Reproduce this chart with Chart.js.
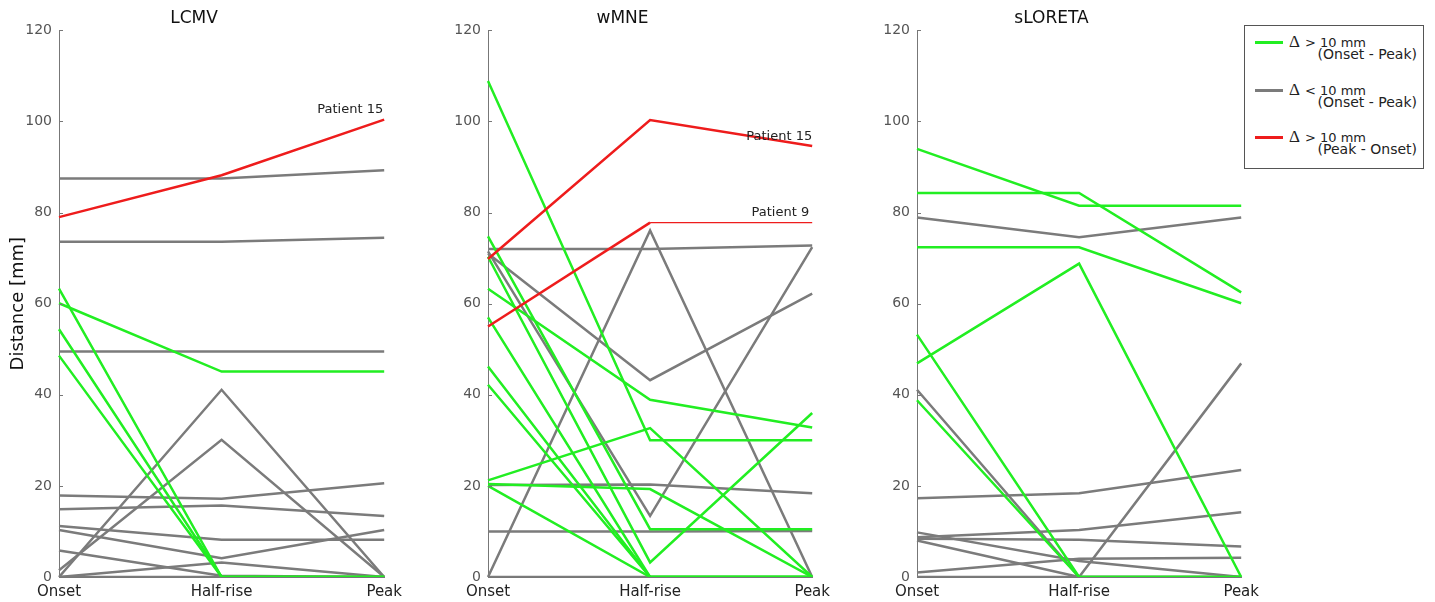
<!DOCTYPE html>
<html>
<head>
<meta charset="utf-8">
<script src="https://cdn.jsdelivr.net/npm/chart.js@4/dist/chart.umd.min.js"></script>
<style>
  html, body { margin:0; padding:0; background:#fff; }
  body { width:1435px; height:602px; position:relative; overflow:hidden; font-family:"DejaVu Sans", sans-serif; }
  .panel { position:absolute; top:0; height:602px; overflow:hidden; }
  .panel canvas { display:block; }
  #legend { position:absolute; left:1244px; top:25px; width:180px; height:144px; border:1px solid #555; box-sizing:border-box; background:#fff; }
  .lg { position:absolute; left:0; width:100%; height:30px; }
  .sw { position:absolute; left:10px; width:28px; height:3px; }
  .main { position:absolute; left:44px; top:6px; height:20px; display:flex; align-items:center; white-space:nowrap; color:#222; font-size:13px; }
  .delta { font-family:"Liberation Serif", serif; font-size:17px; margin-right:5px; }
  .sub { position:absolute; right:6px; top:20px; white-space:nowrap; color:#222; font-size:14px; line-height:16px; }
</style>
</head>
<body>
<div class="panel" id="p1" style="left:0px;width:408px;"><canvas id="c1" width="408" height="609"></canvas></div>
<div class="panel" id="p2" style="left:429px;width:407px;"><canvas id="c2" width="407" height="609"></canvas></div>
<div class="panel" id="p3" style="left:858px;width:407px;"><canvas id="c3" width="407" height="609"></canvas></div>

<div id="legend">
  <div class="lg" style="top:0px;">
    <div class="sw" style="top:15px;background:#22ee22;"></div>
    <div class="main"><span class="delta">&Delta;</span><span>&gt; 10 mm</span></div>
    <div class="sub">(Onset - Peak)</div>
  </div>
  <div class="lg" style="top:48px;">
    <div class="sw" style="top:15px;background:#7b7b7b;"></div>
    <div class="main"><span class="delta">&Delta;</span><span>&lt; 10 mm</span></div>
    <div class="sub">(Onset - Peak)</div>
  </div>
  <div class="lg" style="top:95px;">
    <div class="sw" style="top:15px;background:#ee1c1c;"></div>
    <div class="main"><span class="delta">&Delta;</span><span>&gt; 10 mm</span></div>
    <div class="sub">(Peak - Onset)</div>
  </div>
</div>

<script>
// ---- Data ----
const categories = ['Onset', 'Half-rise', 'Peak'];
const yTickValues = [0, 20, 40, 60, 80, 100, 120];
const panelTitles = ['LCMV', 'wMNE', 'sLORETA'];

// LCMV
const lcmvRed = [[79.0, 88.2, 100.4]];
const lcmvGreen = [[60.1, 45.1, 45.1], [63.3, 0, 0], [54.4, 0, 0], [48.6, 0, 0]];
const lcmvGrey = [[87.5, 87.5, 89.3], [73.6, 73.6, 74.5], [49.5, 49.5, 49.5], [17.9, 17.2, 20.6],
                  [14.9, 15.7, 13.4], [11.2, 8.2, 8.2], [10.3, 4.1, 10.3], [5.8, 0.3, 0],
                  [0, 3.2, 0], [0, 41.1, 0], [1.5, 30.1, 0], [0, 0, 0]];

// wMNE
const wmneRed = [[69.8, 100.3, 94.6], [55.0, 77.8, 77.8]];
const wmneGreen = [[108.9, 30.0, 30.0], [74.8, 10.5, 10.5], [70.3, 3.2, 36.0], [63.3, 38.9, 32.8],
                   [57.0, 0, 0], [46.2, 0, 0], [42.2, 0, 0], [21.2, 32.7, 0], [20.4, 19.3, 0], [20.0, 0, 0]];
const wmneGrey = [[72.0, 72.0, 72.8], [71.0, 43.2, 62.2], [71.5, 13.4, 72.4], [0, 76.1, 0],
                  [20.2, 20.3, 18.4], [10.0, 10.0, 10.1], [0, 0, 0]];

// sLORETA
const slorRed = [];
const slorGreen = [[94.0, 81.5, 81.5], [84.3, 84.3, 62.5], [72.4, 72.4, 60.1], [46.9, 68.8, 0],
                   [53.2, 0, 0], [38.8, 0, 0]];
const slorGrey = [[78.9, 74.6, 78.9], [41.1, 0, 46.9], [17.3, 18.4, 23.5], [8.7, 10.3, 14.2],
                  [8.4, 8.2, 6.7], [9.8, 3.5, 0], [8.0, 0, 0], [1.0, 4.0, 4.2], [0, 0, 0]];

// Annotation texts
const lcmvNotes = [{ text: 'Patient 15', x: 2, y: 102.5, dx: -1 }];
const wmneNotes = [{ text: 'Patient 15', x: 2, y: 96.6, dx: 0 }, { text: 'Patient 9', x: 2, y: 80.1, dx: -3 }];

// ---- Styles ----
const GREEN = '#22ee22', GREY = '#7b7b7b', RED = '#ee1c1c';
const LINE_W = 2.5;
// per-segment widths for red series (wMNE Patient 9 plateau is drawn thin)
const wmneRedSegW = [[LINE_W, LINE_W], [LINE_W, 1.2]];

function makeSets(red, green, grey, redSegW) {
  const sets = [];
  red.forEach((d, i) => {
    const s = { data: d, borderColor: RED };
    if (redSegW) s.segment = { borderWidth: ctx => redSegW[i][ctx.p0DataIndex] };
    sets.push(s);
  });
  green.forEach(d => sets.push({ data: d, borderColor: GREEN }));
  grey.forEach(d => sets.push({ data: d, borderColor: GREY }));
  return sets.map(s => Object.assign(s, { borderWidth: LINE_W, pointRadius: 0, tension: 0, fill: false }));
}

const extrasPlugin = {
  id: 'extras',
  afterDatasetsDraw(chart, args, opts) {
    const { ctx, scales: { x, y } } = chart;
    ctx.save();
    ctx.strokeStyle = '#777'; ctx.lineWidth = 1;
    yTickValues.forEach(v => {
      const py = Math.round(y.getPixelForValue(v)) + 0.5;
      ctx.beginPath(); ctx.moveTo(x.left, py); ctx.lineTo(x.left + 4, py); ctx.stroke();
    });
    ctx.font = '13px "DejaVu Sans"';
    ctx.fillStyle = '#222'; ctx.textAlign = 'right'; ctx.textBaseline = 'middle';
    (opts.notes || []).forEach(n => {
      ctx.fillText(n.text, x.getPixelForValue(n.x) + n.dx, y.getPixelForValue(n.y));
    });
    ctx.restore();
  }
};

function makeChart(id, title, sets, notes, showYTitle) {
  return new Chart(document.getElementById(id), {
    type: 'line',
    data: { labels: categories, datasets: sets },
    plugins: [extrasPlugin],
    options: {
      responsive: false,
      animation: false,
      events: [],
      layout: { padding: { right: 20, bottom: 2, left: 0, top: 0 } },
      plugins: {
        legend: { display: false },
        tooltip: { enabled: false },
        title: { display: true, text: title, color: '#111', font: { family: 'DejaVu Sans', size: 17, weight: 'normal' }, padding: { top: 8, bottom: 2 } },
        extras: { notes: notes }
      },
      scales: {
        x: {
          type: 'category',
          offset: false,
          grid: { display: true, drawOnChartArea: false, drawTicks: false },
          border: { display: true, color: '#777', width: 1 },
          ticks: { color: '#222', font: { family: 'DejaVu Sans', size: 15 }, padding: 6, autoSkip: false, maxRotation: 0 }
        },
        y: {
          min: yTickValues[0], max: yTickValues[yTickValues.length - 1],
          afterBuildTicks: (s) => { s.ticks = yTickValues.map(v => ({ value: v })); },
          afterFit: (s) => { s.width = 59; },
          grid: { display: true, drawOnChartArea: false, drawTicks: false },
          border: { display: true, color: '#777', width: 1 },
          ticks: { color: '#555', font: { family: 'DejaVu Sans', size: 14 }, padding: 7 },
          title: { display: showYTitle, text: 'Distance [mm]', color: '#111', font: { family: 'DejaVu Sans', size: 18 }, padding: { top: 8, bottom: 0 } }
        }
      }
    }
  });
}

makeChart('c1', panelTitles[0], makeSets(lcmvRed, lcmvGreen, lcmvGrey), lcmvNotes, true);
makeChart('c2', panelTitles[1], makeSets(wmneRed, wmneGreen, wmneGrey, wmneRedSegW), wmneNotes, false);
makeChart('c3', panelTitles[2], makeSets(slorRed, slorGreen, slorGrey), [], false);
</script>
</body>
</html>
